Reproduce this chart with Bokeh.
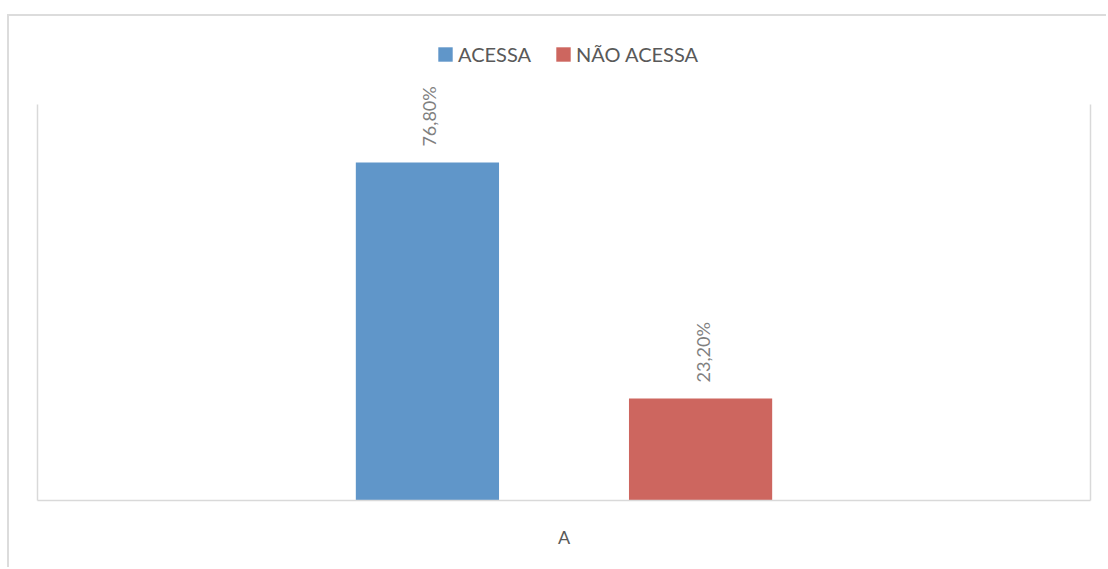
from math import pi
from bokeh.plotting import figure
from bokeh.models import (ColumnDataSource, FactorRange, Range1d, LinearAxis, FixedTicker,
                          Legend, LegendItem)
from bokeh.transform import dodge
from bokeh.core.properties import value
from bokeh.embed import file_html
from bokeh.resources import INLINE

categories = ["A"]
series_names = ["ACESSA", "NÃO ACESSA"]
acessa = [76.8]
nao_acessa = [23.2]
colors = ["#6096C9", "#CD665F"]
y_max = 90

def fmt(v):
    return f"{v:.2f}%".replace(".", ",")

src = ColumnDataSource(dict(
    cat=categories,
    acessa=acessa,
    nao=nao_acessa,
    lab_acessa=[fmt(v) for v in acessa],
    lab_nao=[fmt(v) for v in nao_acessa],
))

FONT = "Lato"

# page layout (screen px)
OX, OY = 9, 16            # figure offset inside the outer border
W, H = 1108 - OX, 569 - OY
frame_top = 30 - OY
plot_top = 104 - OY
frame_bottom = 500 - OY
frame_h = frame_bottom - frame_top
plot_h = frame_bottom - plot_top
y_end = y_max * frame_h / plot_h

p = figure(x_range=FactorRange(*categories), y_range=Range1d(0, y_end),
           width=W, height=H, output_backend="svg", toolbar_location=None,
           min_border_left=37 - OX, min_border_right=18, min_border_top=frame_top,
           min_border_bottom=H - frame_bottom,
           y_axis_location=None)
p.margin = (OY, 0, 0, OX)
p.styles = {"box-shadow": "-2px -2px 0 0 #DCDCDC"}
p.outline_line_color = None
p.xgrid.visible = False
p.ygrid.visible = False
p.background_fill_color = "white"
p.border_fill_color = "white"

w = 0.136
off = 0.1297
r1 = p.vbar(x=dodge("cat", -off, range=p.x_range), top="acessa", width=w, source=src,
            fill_color=colors[0], line_color=None)
r2 = p.vbar(x=dodge("cat", off, range=p.x_range), top="nao", width=w, source=src,
            fill_color=colors[1], line_color=None)

for col, lab, o in [("acessa", "lab_acessa", -off), ("nao", "lab_nao", off)]:
    p.text(x=dodge("cat", o, range=p.x_range), y=col, text=lab, source=src,
           angle=pi / 2, text_align="left", text_baseline="middle",
           x_offset=2, y_offset=-16,
           text_font=value(FONT), text_font_size="18px", text_color="#7F7F7F")

ax = p.xaxis[0]
ax.axis_line_color = "#D9D9D9"
ax.axis_line_width = 1.5
ax.major_tick_line_color = None
ax.minor_tick_line_color = None
ax.major_label_text_font = FONT
ax.major_label_text_font_size = "18px"
ax.major_label_text_color = "#595959"
ax.major_label_standoff = 19

for side in ["left", "right"]:
    a = LinearAxis(ticker=FixedTicker(ticks=[]), bounds=(0, y_max),
                   axis_line_color="#D9D9D9", axis_line_width=1.5,
                   major_tick_line_color=None, minor_tick_line_color=None,
                   major_label_text_font_size="0px")
    p.add_layout(a, side)

legend = Legend(items=[LegendItem(label=series_names[0], renderers=[r1]),
                       LegendItem(label=series_names[1], renderers=[r2])],
                orientation="horizontal", location=(399, 434),
                glyph_width=18, glyph_height=18, label_standoff=4, spacing=23,
                padding=0, margin=0, border_line_color=None, background_fill_alpha=0,
                label_text_font=FONT, label_text_font_size="20px", label_text_color="#595959")
p.add_layout(legend, "center")

open("out.html", "w").write(file_html(p, INLINE))
